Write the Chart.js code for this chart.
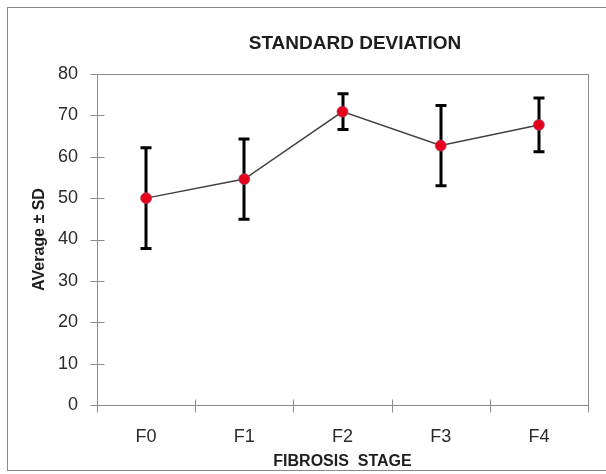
<!DOCTYPE html>
<html>
<head>
<meta charset="utf-8">
<script src="https://cdn.jsdelivr.net/npm/chart.js@4/dist/chart.umd.min.js"></script>
<style>
  html, body { margin: 0; padding: 0; background: #fff; }
  #wrap { width: 606px; height: 474px; position: relative; }
</style>
</head>
<body>
<div id="wrap"><canvas id="c" width="606" height="474"></canvas></div>
<script>
// Fibrosis stages and the mean score with its standard deviation per stage
const stages = ['F0', 'F1', 'F2', 'F3', 'F4'];
const averages = [50.0, 54.6, 70.9, 62.7, 67.7];
const stdDevs = [12.2, 9.7, 4.3, 9.7, 6.5];
const yTickValues = [0, 10, 20, 30, 40, 50, 60, 70, 80];

const chartTitle = 'STANDARD DEVIATION';
const xTitle = 'FIBROSIS  STAGE';
const yTitle = 'AVerage \u00B1 SD';

const FONT = "'Liberation Sans', Arial, sans-serif";
const AXIS_GREY = '#8a8a8a';

// Frame, plot box, cross-style tick marks and the heading
const framePlugin = {
  id: 'frame',
  beforeDraw(chart) {
    const ctx = chart.ctx;
    ctx.save();
    ctx.fillStyle = '#fff';
    ctx.fillRect(0, 0, chart.width, chart.height);
    ctx.strokeStyle = AXIS_GREY;
    ctx.lineWidth = 1;
    ctx.strokeRect(7.5, 7.5, chart.width + 10, 463);
    ctx.restore();
  },
  beforeDatasetsDraw(chart) {
    const ctx = chart.ctx;
    const a = chart.chartArea;
    const xs = chart.scales.x, ys = chart.scales.y;
    ctx.save();
    ctx.strokeStyle = AXIS_GREY;
    ctx.lineWidth = 1;
    const L = Math.round(a.left) + 0.5, R = Math.round(a.right) + 0.5;
    const T = Math.round(a.top) + 0.5, B = Math.round(a.bottom) + 0.5;
    ctx.strokeRect(L, T, R - L, B - T);
    ctx.beginPath();
    yTickValues.forEach(v => {
      const y = Math.round(ys.getPixelForValue(v)) + 0.5;
      ctx.moveTo(L - 7, y);
      ctx.lineTo(v === yTickValues[yTickValues.length - 1] ? L : L + 7, y);
    });
    const step = xs.getPixelForValue(1) - xs.getPixelForValue(0);
    for (let i = 0; i <= stages.length; i++) {
      const x = Math.round(xs.getPixelForValue(0) - step / 2 + i * step) + 0.5;
      ctx.moveTo(x, B - 6);
      ctx.lineTo(x, B + 7);
    }
    ctx.stroke();

    // error bars: mean ± SD
    const meta = chart.getDatasetMeta(0);
    ctx.strokeStyle = '#000';
    ctx.lineWidth = 3;
    ctx.lineCap = 'butt';
    meta.data.forEach((pt, i) => {
      const x = Math.round(pt.x);
      const yHi = ys.getPixelForValue(averages[i] + stdDevs[i]);
      const yLo = ys.getPixelForValue(averages[i] - stdDevs[i]);
      ctx.beginPath();
      ctx.moveTo(x, yHi);
      ctx.lineTo(x, yLo);
      ctx.moveTo(x - 5.5, yHi);
      ctx.lineTo(x + 5.5, yHi);
      ctx.moveTo(x - 5.5, yLo);
      ctx.lineTo(x + 5.5, yLo);
      ctx.stroke();
    });
    ctx.restore();
  },
  afterDraw(chart) {
    const ctx = chart.ctx;
    ctx.save();
    ctx.fillStyle = '#1e1e1e';
    ctx.font = 'bold 19px ' + FONT;
    ctx.textAlign = 'center';
    ctx.textBaseline = 'middle';
    ctx.fillText(chartTitle, 355, 44);
    ctx.restore();
  }
};

new Chart(document.getElementById('c'), {
  type: 'line',
  data: {
    labels: stages,
    datasets: [{
      data: averages,
      borderColor: '#404040',
      borderWidth: 1.5,
      pointRadius: 5.5,
      pointHoverRadius: 5.5,
      pointBackgroundColor: '#e6001c',
      pointBorderColor: 'rgba(160,70,100,0.7)',
      pointBorderWidth: 1,
      tension: 0,
      fill: false
    }]
  },
  options: {
    responsive: false,
    animation: false,
    devicePixelRatio: 1,
    layout: { padding: { top: 74, right: 18, bottom: 0, left: 0 } },
    plugins: {
      legend: { display: false },
      tooltip: { enabled: false },
      title: { display: false }
    },
    scales: {
      x: {
        type: 'category',
        offset: true,
        grid: { display: false },
        border: { display: false },
        ticks: {
          color: '#2a2a2a',
          font: { family: FONT, size: 18 },
          padding: 13
        },
        title: {
          display: true,
          text: xTitle,
          color: '#1e1e1e',
          font: { family: FONT, size: 16, weight: 'bold' },
          padding: { top: 0, bottom: 3 }
        },
        afterFit(scale) { scale.height = 69; }
      },
      y: {
        min: 0,
        max: 80,
        grid: { display: false },
        border: { display: false },
        afterBuildTicks(scale) { scale.ticks = yTickValues.map(v => ({ value: v })); },
        ticks: {
          color: '#2a2a2a',
          font: { family: FONT, size: 18 },
          padding: 11
        },
        title: {
          display: true,
          text: yTitle,
          color: '#1e1e1e',
          font: { family: FONT, size: 16, weight: 'bold' },
          padding: { top: 30, bottom: 0 }
        },
        afterFit(scale) { scale.width = 97; }
      }
    }
  },
  plugins: [framePlugin]
});
</script>
</body>
</html>
